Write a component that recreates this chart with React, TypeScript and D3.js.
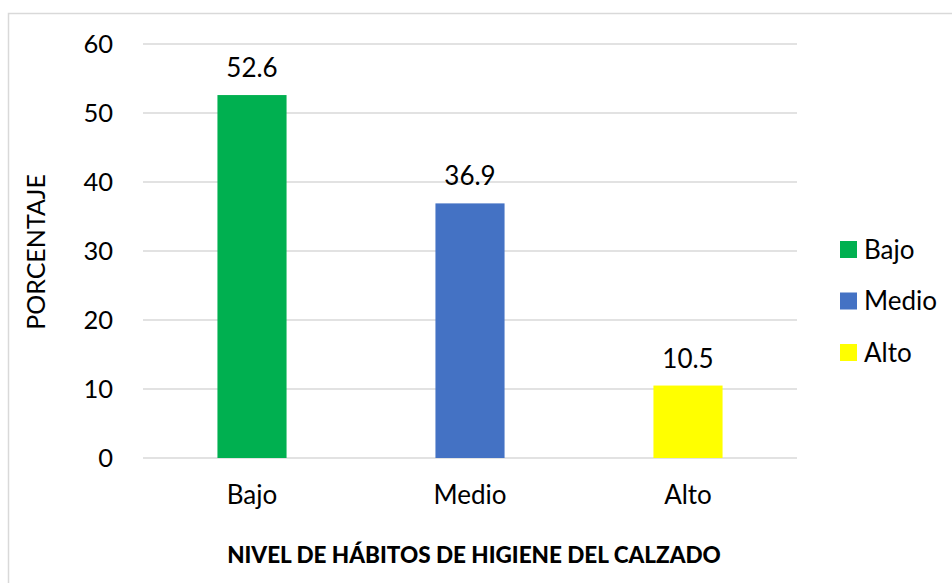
import React from "react";
import * as d3 from "d3";

const categories = ["Bajo", "Medio", "Alto"];
const values = [52.6, 36.9, 10.5];
const colors = ["#00B050", "#4472C4", "#FFFF00"];
const yTicks = [0, 10, 20, 30, 40, 50, 60];
const xTitle = "NIVEL DE HÁBITOS DE HIGIENE DEL CALZADO";
const yTitle = "PORCENTAJE";

const W = 952;
const H = 583;
const FONT = "Lato, 'Open Sans', sans-serif";

export default function App() {
  const x = d3.scaleBand<string>().domain(categories).range([143, 797]).paddingInner(0.683).paddingOuter(0.3415);
  const y = d3.scaleLinear().domain([0, 60]).range([458, 44]);
  const legendY = d3.scalePoint<string>().domain(categories).range([249.5, 352.5]);

  return (
    <div style={{ position: "absolute", left: 0, top: 0 }}>
      <svg width={W} height={H} style={{ display: "block", background: "#fff" }}>
        <rect x={8.5} y={13.5} width={1000} height={1000} fill="#fff" stroke="#d9d9d9" strokeWidth={1.5} />
        {yTicks.map((t) => (
          <g key={t}>
            <line x1={143} x2={797} y1={y(t)} y2={y(t)} stroke="#d9d9d9" strokeWidth={1.5} />
            <text x={113} y={y(t)} dy="0.36em" textAnchor="end" fontFamily={FONT} fontSize={25.5} fill="#000">
              {t}
            </text>
          </g>
        ))}
        {categories.map((c, i) => (
          <g key={c}>
            <rect x={x(c)} y={y(values[i])} width={x.bandwidth()} height={y(0) - y(values[i])} fill={colors[i]} />
            <text x={(x(c) as number) + x.bandwidth() / 2} y={y(values[i]) - 18} textAnchor="middle" fontFamily={FONT} fontSize={26} fill="#000">
              {values[i].toFixed(1)}
            </text>
            <text x={(x(c) as number) + x.bandwidth() / 2} y={504} textAnchor="middle" fontFamily={FONT} fontSize={26} fill="#000">
              {c}
            </text>
          </g>
        ))}
        <text x={474} y={563} textAnchor="middle" fontFamily={FONT} fontSize={22.5} fontWeight={900} fill="#000">
          {xTitle}
        </text>
        <text transform="translate(45,252) rotate(-90)" textAnchor="middle" fontFamily={FONT} fontSize={25} fill="#000">
          {yTitle}
        </text>
        {categories.map((c, i) => (
          <g key={"l" + c}>
            <rect x={840} y={(legendY(c) as number) - 8.5} width={17} height={17} fill={colors[i]} />
            <text x={864} y={legendY(c) as number} dy="0.36em" fontFamily={FONT} fontSize={26} fill="#000">
              {c}
            </text>
          </g>
        ))}
      </svg>
    </div>
  );
}
